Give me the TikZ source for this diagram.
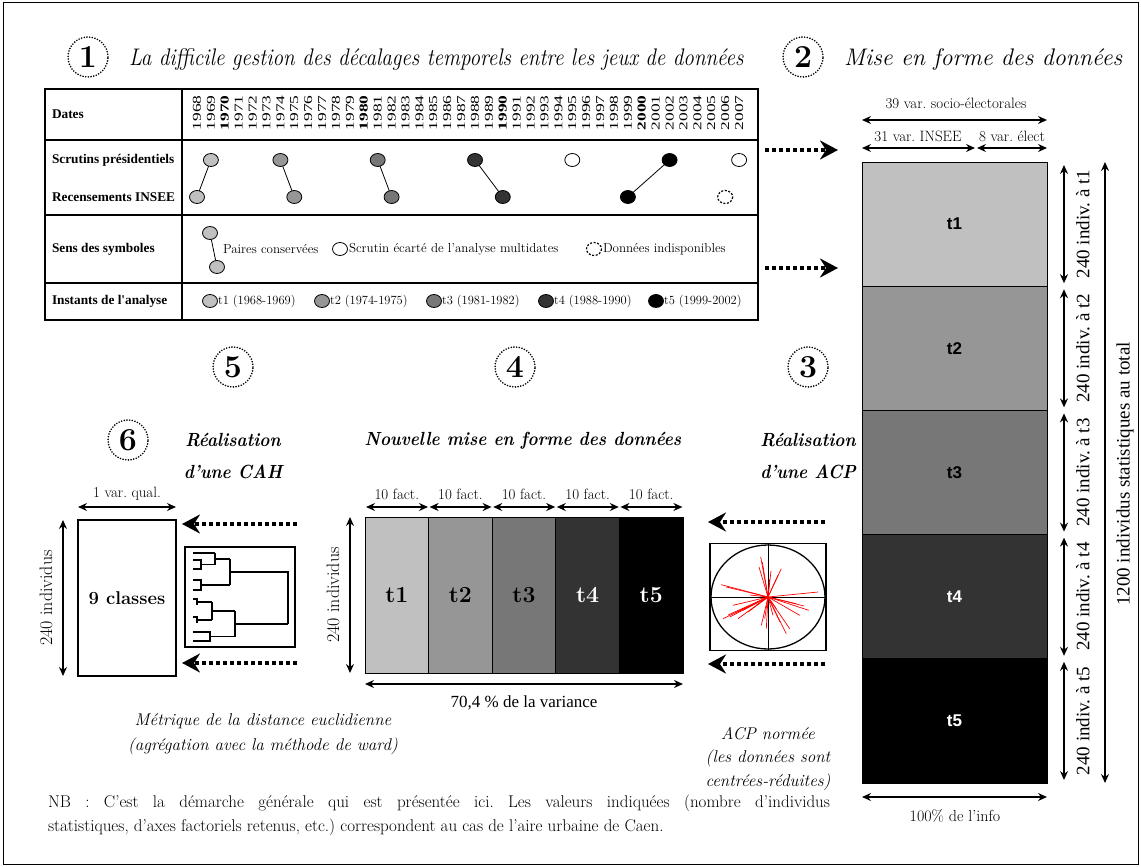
\documentclass[tikz,border=0pt]{standalone}
\usepackage{fontspec}
\newfontfamily\tms{Liberation Serif}
\newfontfamily\ars{Liberation Sans}
\usetikzlibrary{arrows.meta,shapes.geometric}
\definecolor{ga}{HTML}{C0C0C0}
\definecolor{gb}{HTML}{969696}
\definecolor{gc}{HTML}{777777}
\definecolor{gd}{HTML}{333333}
\definecolor{ge}{HTML}{000000}
\begin{document}
\frenchspacing
\begin{tikzpicture}[x=1pt,y=-1pt,
 every node/.style={inner sep=0pt,outer sep=0pt},
 numc/.style={circle,draw,dash pattern=on 0pt off 2.7pt,line cap=round,line width=1.8pt,minimum size=40pt,font=\fontsize{32}{32}\selectfont\bfseries},
 ttl/.style={font=\fontsize{24}{24}\selectfont\itshape},
 rtl/.style={font=\fontsize{19}{19}\selectfont\bfseries\itshape},
 tline/.style={line width=1.8pt},
 lab/.style={anchor=west,font=\tms\bfseries\fontsize{13.3}{13.3}\selectfont},
 yr/.style={rotate=90,font=\tms\fontsize{12}{12}\selectfont},
 pt/.style={ellipse,draw,line width=0.8pt,minimum width=15pt,minimum height=13pt},
 leg/.style={anchor=west,font=\fontsize{13}{13}\selectfont},
 inst/.style={anchor=west,font=\fontsize{12.5}{12.5}\selectfont},
 tip/.tip={Stealth[length=9pt,width=8pt,inset=3pt]},
 dim/.style={line width=1.6pt,tip-tip},
 bigarrow/.style={line width=4pt,dash pattern=on 4pt off 3pt,-{Stealth[length=18pt,width=19pt,inset=6pt]}},
 rbox/.style={draw,line width=1pt,minimum width=185pt,minimum height=124.2pt,font=\ars\bfseries\fontsize{17}{17}\selectfont},
 cbox/.style={draw,line width=1pt,minimum width=63.6pt,minimum height=156pt,font=\bfseries\fontsize{23}{23}\selectfont},
 small/.style={font=\fontsize{15}{15}\selectfont},
 rlab/.style={rotate=90,font=\tms\fontsize{19}{19}\selectfont},
 ital/.style={font=\fontsize{17}{17}\selectfont\itshape},
 dendro/.style={line width=1.2pt}
]
\useasboundingbox (0,0) rectangle (1141,867);
\draw[line width=1pt] (3,3) rectangle (1138,864);

% ---------- 1 ----------
\node[numc] (n1) at (88,57) {1};
\node[ttl,anchor=west] (ti1) at (129,60) {\scalebox{0.88}[1]{La difficile gestion des décalages temporels entre les jeux de données}};

\draw[tline] (45,89) rectangle (758,320);
\draw[tline] (182,89) -- (182,320);
\draw[line width=2.6pt] (45,140) -- (758,140);
\draw[tline] (45,215) -- (758,215);
\draw[tline] (45,283) -- (758,283);

\node[lab] (lda) at (52,114) {Dates};
\node[lab] (lsc) at (52,160) {Scrutins présidentiels};
\node[lab] (lre) at (52,197) {Recensements INSEE};
\node[lab] (lse) at (52,249) {Sens des symboles};
\node[lab] (lin) at (52,301) {Instants de l'analyse};

\foreach \i in {0,...,39}{
  \pgfmathtruncatemacro\yy{1968+\i}
  \pgfmathtruncatemacro\mm{mod(\yy,10)}
  \node[yr] (y\i) at (197+13.9*\i,113) {\ifnum\mm=0 \bfseries\fi\scalebox{1.45}[1]{\yy}};
}

\node[pt,fill=ga] (s1) at (210.9,160) {};
\node[pt,fill=ga] (r1) at (197,197) {};
\draw[line width=0.8pt] (s1) -- (r1);
\node[pt,fill=gb] (s2) at (280.4,160) {};
\node[pt,fill=gb] (r2) at (294.3,197) {};
\draw[line width=0.8pt] (s2) -- (r2);
\node[pt,fill=gc] (s3) at (377.7,160) {};
\node[pt,fill=gc] (r3) at (391.6,197) {};
\draw[line width=0.8pt] (s3) -- (r3);
\node[pt,fill=gd] (s4) at (475,160) {};
\node[pt,fill=gd] (r4) at (502.8,197) {};
\draw[line width=0.8pt] (s4) -- (r4);
\node[pt,fill=white] (s6) at (572.3,160) {};
\node[pt,fill=ge] (s5) at (669.6,160) {};
\node[pt,fill=ge] (r5) at (627.9,197) {};
\draw[line width=0.8pt] (s5) -- (r5);
\node[pt,fill=white] (s7) at (739.1,160) {};
\node[pt,draw=none] (r7) at (725.2,197) {};
\draw[line width=1.2pt,dash pattern=on 2pt off 1.6pt] (r7.center) ellipse [x radius=7.5, y radius=6.5];

% legend
\node[pt,fill=ga] (p1) at (210,233) {};
\node[pt,fill=ga] (p2) at (217,267) {};
\draw[line width=0.8pt] (p1) -- (p2);
\node[leg] (tp) at (223,249) {Paires conservées};
\node[pt,fill=white] (po) at (340,249) {};
\node[leg] (tpo) at (349,249) {Scrutin écarté de l'analyse multidates};
\node[pt,draw=none] (pd) at (594,249) {};
\draw[line width=1.2pt,dash pattern=on 2pt off 1.6pt] (pd.center) ellipse [x radius=7.5, y radius=6.5];
\node[leg] (tpd) at (603,249) {Données indisponibles};

\node[pt,fill=ga] (i1) at (210,301) {};
\node[inst] (ti1a) at (218,301) {t1 (1968-1969)};
\node[pt,fill=gb] (i2) at (322,301) {};
\node[inst] (ti2a) at (330,301) {t2 (1974-1975)};
\node[pt,fill=gc] (i3) at (434,301) {};
\node[inst] (ti3a) at (442,301) {t3 (1981-1982)};
\node[pt,fill=gd] (i4) at (546,301) {};
\node[inst] (ti4a) at (554,301) {t4 (1988-1990)};
\node[pt,fill=ge] (i5) at (656,301) {};
\node[inst] (ti5a) at (664,301) {t5 (1999-2002)};

% dotted arrows to 2
\coordinate (a1s) at (765,150);
\coordinate (a1e) at (838,150);
\draw[bigarrow] (a1s) -- (a1e);
\coordinate (a2s) at (765,268);
\coordinate (a2e) at (838,268);
\draw[bigarrow] (a2s) -- (a2e);

% ---------- 2 ----------
\node[numc] (n2) at (803,57) {2};
\node[ttl,anchor=west] (ti2) at (844,60) {Mise en forme des données};

\node[rbox,fill=ga] (R1) at (954.5,224.1) {t1};
\node[rbox,fill=gb] (R2) at (954.5,348.3) {t2};
\node[rbox,fill=gc] (R3) at (954.5,472.5) {t3};
\node[rbox,fill=gd,text=white] (R4) at (954.5,596.7) {t4};
\node[rbox,fill=ge,text=white] (R5) at (954.5,720.9) {t5};

\node[small] (v39) at (956,103) {39 var. socio-électorales};
\draw[dim] (862,120) -- (1047,120);
\node[small] (v31) at (918,136) {31 var. INSEE};
\node[small] (v8) at (1012,136) {8 var. élect};
\draw[dim] (862,148) -- (975,148);
\draw[dim] (977,148) -- (1047,148);

\foreach \k in {1,...,5}{
  \draw[dim] (1064,162+124.2*\k-124.2+3) -- (1064,162+124.2*\k-3);
  \node[rlab] (ri\k) at (1083,162+124.2*\k-62.1) {240 indiv. à t\k};
}
\draw[dim] (1105,162) -- (1105,783);
\node[rlab] (rtot) at (1125,474) {1200 individus statistiques au total};

\draw[dim] (862,797) -- (1047,797);
\node[font=\fontsize{16}{16}\selectfont] (info) at (955,816) {100\% de l'info};

% ---------- 3 ----------
\node[numc] (n3) at (808,367) {3};
\node[rtl] (re3) at (808,440) {\scalebox{0.9}[1]{Réalisation}};
\node[rtl] (du3) at (808,472) {\scalebox{0.9}[1]{d'une ACP}};
\node[draw,line width=1.2pt,minimum width=116pt,minimum height=107pt] (A) at (768,597) {};
\draw[line width=0.7pt] (A.west) -- (A.east);
\draw[line width=0.7pt] (A.north) -- (A.south);
\draw[line width=1.3pt] (A.center) ellipse [x radius=57, y radius=52];
\foreach \dx/\dy in {-7.3/-40,-5.7/-35,13.3/-28.3,10/-21.7,50/-5,-46.7/-12.3,-41.7/-10,-45/21.7,-38.3/20,-30/21.7,-35/8.3,-6.7/28.3,-1.7/31.7,18.3/36.7,21.7/31.7,31.7/18.3,40.7/13.3,28.3/6.7,8.3/11.7,5/18.3,-20/15,-25/13.3,-3.3/21.7,-18/-2,1.7/-18,-11.7/8.3,-33/16,-40/18,12/25,-9/-30,3/-26,36/9}{
  \draw[red,line width=0.7pt] (A.center) -- ++(\dx,\dy);
}
\coordinate (b1s) at (825,522);
\coordinate (b1e) at (708,522);
\draw[bigarrow] (b1s) -- (b1e);
\coordinate (b2s) at (825,664);
\coordinate (b2e) at (708,664);
\draw[bigarrow] (b2s) -- (b2e);
\node[ital] (acp1) at (768,734) {ACP normée};
\node[ital] (acp2) at (768,758) {(les données sont};
\node[ital] (acp3) at (768,782) {centrées-réduites)};

% ---------- 4 ----------
\node[numc] (n4) at (515,367) {4};
\node[rtl] (ti4) at (523,441) {\scalebox{0.9}[1]{Nouvelle mise en forme des données}};
\node[cbox,fill=ga] (C1) at (396.8,595) {t1};
\node[cbox,fill=gb] (C2) at (460.4,595) {t2};
\node[cbox,fill=gc] (C3) at (524,595) {t3};
\node[cbox,fill=gd,text=white] (C4) at (587.6,595) {t4};
\node[cbox,fill=ge,text=white] (C5) at (651.2,595) {t5};
\foreach \k in {1,...,5}{
  \node[small] (f\k) at (396.8+63.6*\k-63.6,494) {10 fact.};
  \draw[dim] (366+63.6*\k-63.6,507) -- (428+63.6*\k-63.6,507);
}
\draw[dim] (350,673) -- (350,517);
\node[rotate=90,font=\fontsize{18}{18}\selectfont] (ind4) at (333,595) {240 individus};
\draw[dim] (365,684) -- (683,684);
\node[font=\tms\fontsize{17}{17}\selectfont] (var) at (524,703) {70,4 \% de la variance};

% ---------- 5 ----------
\node[numc] (n5) at (233,367) {5};
\node[rtl] (re5) at (233,440) {\scalebox{0.9}[1]{Réalisation}};
\node[rtl] (du5) at (233,472) {\scalebox{0.9}[1]{d'une CAH}};
\node[draw,line width=1.2pt,minimum width=110pt,minimum height=100pt] (D) at (240,597) {};
% dendrogram
\draw[dendro] (193,553) -- (215,553);
\draw[dendro] (193,560) -- (201,560) -- (201,569) -- (193,569);
\draw[dendro] (201,564.5) -- (215,564.5);
\draw[dendro] (215,553) -- (215,564.5);
\draw[dendro] (215,559) -- (230,559);
\draw[dendro] (193,580) -- (201,580) -- (201,590) -- (193,590);
\draw[dendro] (201,585) -- (230,585);
\draw[dendro] (230,559) -- (230,585);
\draw[dendro] (230,572) -- (288,572) -- (288,624);
\draw[dendro] (193,599) -- (197,599) -- (197,605);
\draw[dendro] (197,602) -- (212,602);
\draw[dendro] (193,617) -- (197,617) -- (197,623);
\draw[dendro] (197,620) -- (212,620);
\draw[dendro] (212,602) -- (212,620);
\draw[dendro] (212,611) -- (235,611);
\draw[dendro] (193,632) -- (210,632) -- (210,641) -- (193,641);
\draw[dendro] (210,636.5) -- (235,636.5);
\draw[dendro] (235,611) -- (235,636.5);
\draw[dendro] (235,624) -- (288,624);
\coordinate (c1s) at (297,524);
\coordinate (c1e) at (182,524);
\draw[bigarrow] (c1s) -- (c1e);
\coordinate (c2s) at (297,663);
\coordinate (c2e) at (182,663);
\draw[bigarrow] (c2s) -- (c2e);
\node[ital] (met1) at (263,721) {Métrique de la distance euclidienne};
\node[ital] (met2) at (263,746) {(agrégation avec la méthode de ward)};

% ---------- 6 ----------
\node[numc] (n6) at (128,440) {6};
\node[draw,line width=1.2pt,minimum width=98pt,minimum height=156pt,font=\bfseries\fontsize{18.5}{18.5}\selectfont] (B6) at (127,598) {9 classes};
\node[small] (qual) at (127,494) {1 var. qual.};
\draw[dim] (78,507) -- (176,507);
\draw[dim] (63,676) -- (63,520);
\node[rotate=90,font=\fontsize{18}{18}\selectfont] (ind6) at (46,598) {240 individus};

% ---------- NB ----------
\node[anchor=north west,text width=782pt,align=justify,font=\fontsize{17}{24}\selectfont\addfontfeatures{LetterSpace=4}] (nb) at (48,795) {NB : C'est la démarche générale qui est présentée ici. Les valeurs indiquées (nombre d'individus\linebreak statistiques, d'axes factoriels retenus, etc.) correspondent au cas de l'aire urbaine de Caen.};
\end{tikzpicture}
\end{document}
